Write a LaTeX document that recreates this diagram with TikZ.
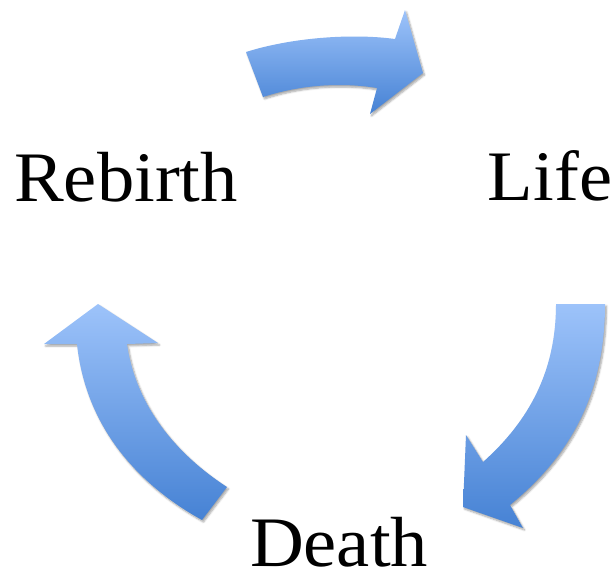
\documentclass[tikz,border=0pt]{standalone}
\usepackage{fontspec}
\setmainfont[FakeStretch=1.05]{Liberation Serif}
\usetikzlibrary{shadows.blur}
\definecolor{arrowlight}{RGB}{157,195,250}
\definecolor{arrowdark}{RGB}{70,130,212}
\tikzset{
	cyclearrow/.style={top color=arrowlight, bottom color=arrowdark, draw=none,
		blur shadow={shadow xshift=1.5pt, shadow yshift=-2pt, shadow blur steps=6, shadow opacity=35}},
	stage/.style={font=\fontsize{71}{80}\selectfont, inner sep=0pt, text depth=0pt, anchor=base}
}

\begin{document}
\begin{tikzpicture}[x=1pt, y=-1pt]
	\useasboundingbox (0,0) rectangle (612,576);
	% stages
	\node[stage] (Rebirth) at (126,201) {Rebirth};
	\node[stage] (Life) at (550,200) {Life};
	\node[stage] (Death) at (339,566) {Death};
	% Rebirth to Life
	\path[cyclearrow] (246,52) .. controls (290,38) and (350,33) .. (395,39)
		-- (405,10) -- (423,73) -- (370,114) -- (377,88)
		.. controls (340,82) and (300,85) .. (263,97) -- cycle;
	% Life to Death
	\path[cyclearrow] (556,304) -- (605,304)
		.. controls (605,400) and (565,460) .. (510,505)
		-- (523,528) -- (463,507) -- (466,435) -- (483,462)
		.. controls (530,420) and (556,370) .. (556,304) -- cycle;
	% Death to Rebirth
	\path[cyclearrow] (98,304) -- (158,343) -- (127,344)
		.. controls (135,400) and (170,450) .. (227,487)
		-- (202,520) .. controls (130,480) and (85,420) .. (77,344)
		-- (44,344) -- cycle;
\end{tikzpicture}
\end{document}
